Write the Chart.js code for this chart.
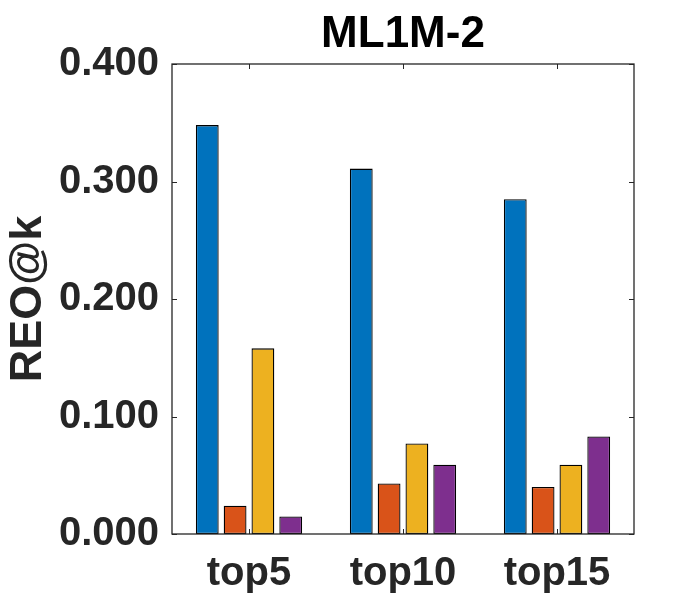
<!DOCTYPE html>
<html>
<head>
<meta charset="utf-8">
<script src="https://cdn.jsdelivr.net/npm/chart.js@4/dist/chart.umd.min.js"></script>
<style>
  html, body { margin: 0; padding: 0; background: #ffffff; }
  #wrap { width: 700px; height: 600px; position: relative; }
</style>
</head>
<body>
<div id="wrap"><canvas id="c"></canvas></div>
<script>
const categories = ['top5', 'top10', 'top15'];
const seriesA = [0.348, 0.311, 0.285];
const seriesB = [0.024, 0.043, 0.040];
const seriesC = [0.158, 0.077, 0.059];
const seriesD = [0.015, 0.059, 0.083];
const yTicks = [0.0, 0.1, 0.2, 0.3, 0.4];
const titleText = 'ML1M-2';
const yTitleText = 'REO@k';

const colors = ['#0072BD', '#D95319', '#EDB120', '#7E2F8E'];
const FONT = "'Liberation Sans', Arial, Helvetica, sans-serif";
const AXC = '#262626';

const innerTicks = {
  id: 'innerTicks',
  afterDatasetsDraw(chart) {
    const ctx = chart.ctx;
    const a = chart.chartArea;
    const x = chart.scales.x, y = chart.scales.y;
    const L = 5;
    ctx.save();
    ctx.strokeStyle = AXC;
    ctx.lineWidth = 1;
    ctx.beginPath();
    yTicks.forEach(v => {
      const py = Math.round(y.getPixelForValue(v)) + 0.5;
      ctx.moveTo(a.left, py); ctx.lineTo(a.left + L, py);
      ctx.moveTo(a.right, py); ctx.lineTo(a.right - L, py);
    });
    categories.forEach((c, i) => {
      const px = Math.round(x.getPixelForValue(i)) + 0.5;
      ctx.moveTo(px, a.bottom); ctx.lineTo(px, a.bottom - L);
      ctx.moveTo(px, a.top); ctx.lineTo(px, a.top + L);
    });
    ctx.stroke();
    ctx.lineWidth = 1.3;
    ctx.strokeRect(a.left, a.top, a.right - a.left, a.bottom - a.top);
    ctx.restore();
  }
};

const mk = (label, data, i) => ({
  label, data,
  backgroundColor: colors[i],
  borderColor: '#000000',
  borderWidth: 1.3,
  borderSkipped: false,
  categoryPercentage: 0.7226,
  barPercentage: 0.82
});

new Chart(document.getElementById('c'), {
  type: 'bar',
  data: {
    labels: categories,
    datasets: [
      mk('A', seriesA, 0),
      mk('B', seriesB, 1),
      mk('C', seriesC, 2),
      mk('D', seriesD, 3)
    ]
  },
  options: {
    responsive: true,
    maintainAspectRatio: false,
    animation: false,
    devicePixelRatio: 1,
    layout: { padding: { left: 0, right: 66, top: 0, bottom: 0 } },
    plugins: {
      legend: { display: false },
      tooltip: { enabled: false },
      title: { display: false }
    },
    scales: {
      x: {
        type: 'category',
        position: 'bottom',
        offset: true,
        grid: { display: false, drawTicks: false },
        border: { display: false },
        ticks: {
          color: AXC,
          padding: 16,
          font: { family: FONT, size: 40, weight: 'bold' },
          maxRotation: 0
        },
        afterFit(s) { s.height = 66; }
      },
      x2: {
        type: 'category',
        position: 'top',
        labels: categories,
        offset: true,
        grid: { display: false, drawTicks: false },
        border: { display: false },
        ticks: { display: false },
        title: {
          display: true,
          text: titleText,
          color: '#000000',
          font: { family: FONT, size: 44, weight: 'bold', lineHeight: 1 },
          padding: { top: 13, bottom: 0 }
        },
        afterFit(s) { s.height = 64; }
      },
      y: {
        type: 'linear',
        min: 0,
        max: 0.4,
        afterBuildTicks(s) { s.ticks = yTicks.map(v => ({ value: v })); },
        grid: { display: false, drawTicks: false },
        border: { display: false },
        ticks: {
          color: AXC,
          padding: 13,
          font: { family: FONT, size: 40, weight: 'bold' },
          callback: v => Number(v).toFixed(3)
        },
        title: {
          display: true,
          text: yTitleText,
          color: AXC,
          font: { family: FONT, size: 45, weight: 'bold', lineHeight: 1 },
          padding: { top: 6, bottom: 0 }
        },
        afterFit(s) { s.width = 172; }
      }
    }
  },
  plugins: [innerTicks]
});
</script>
</body>
</html>
